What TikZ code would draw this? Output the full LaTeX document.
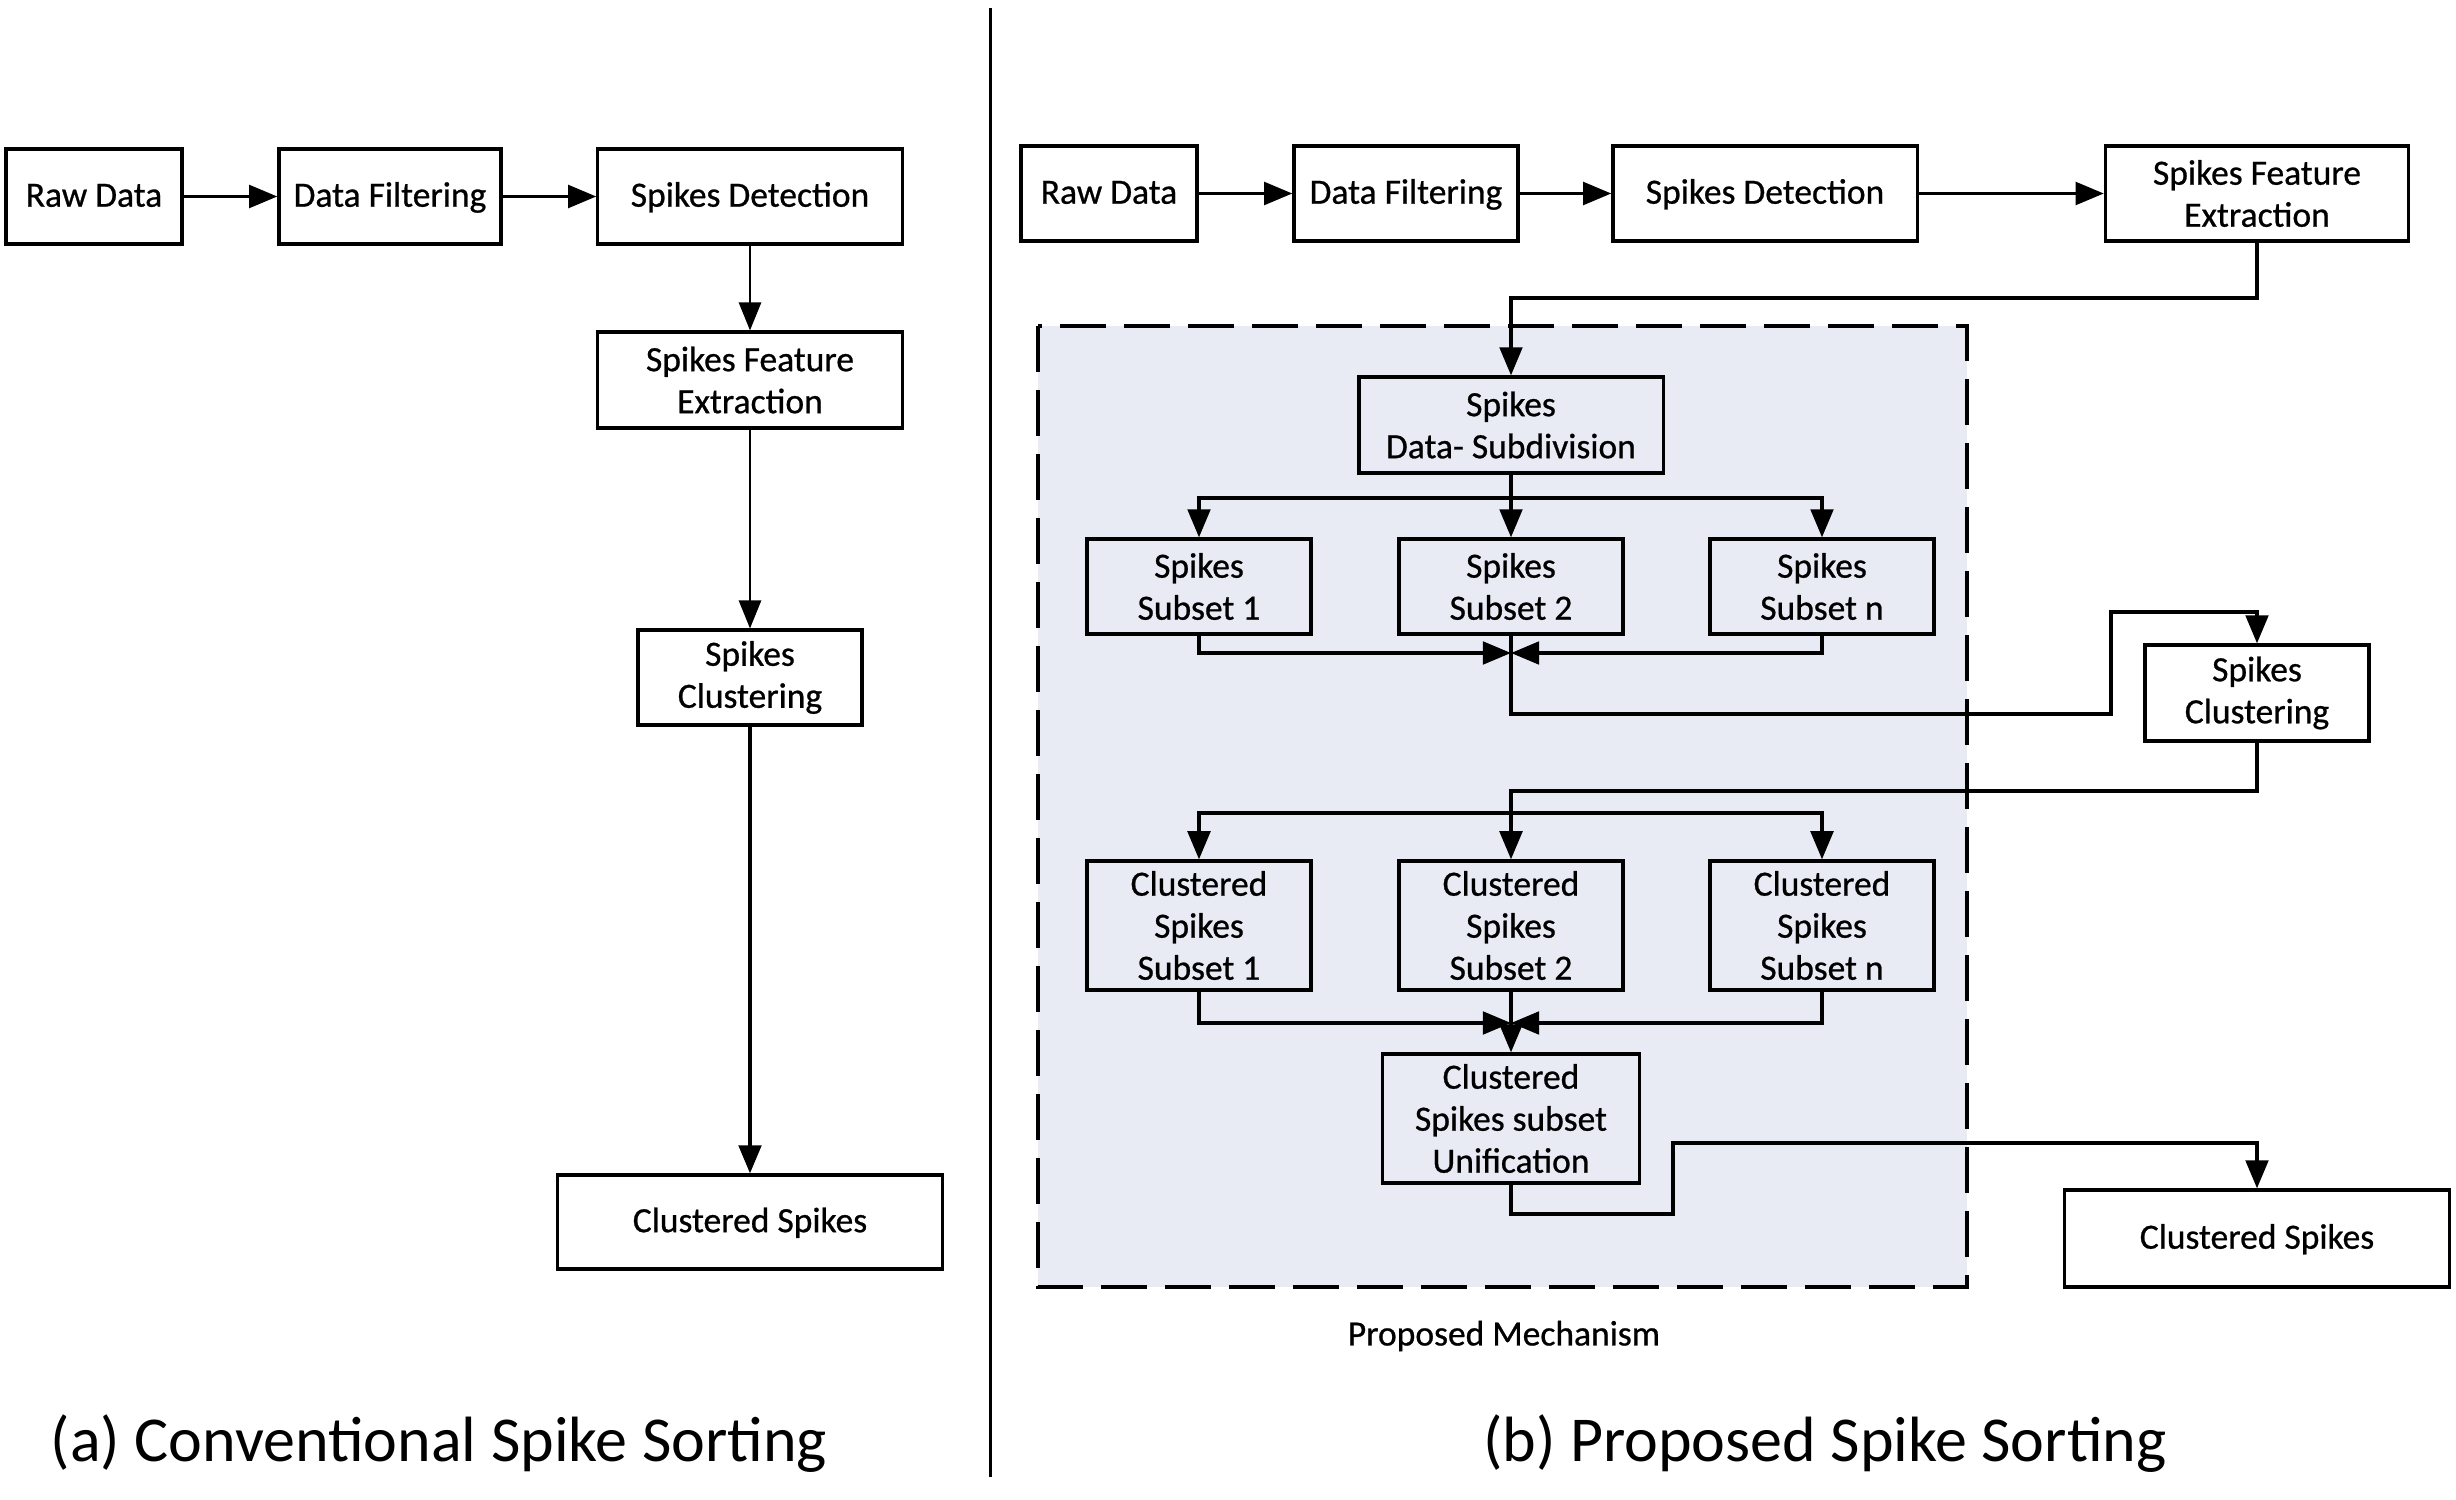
\documentclass[tikz,border=0pt]{standalone}
\usepackage{fontspec}
\setmainfont{Carlito}[FakeBold=0.7]
\newfontfamily\capfont{Carlito}
\usetikzlibrary{arrows.meta}
\definecolor{mechfill}{RGB}{232,235,244}
\tikzset{
  boxbase/.style={draw=black, line width=0.9pt, inner sep=0pt,
     font=\fontsize{10.1pt}{11.95pt}\selectfont},
  boxstyle/.style={boxbase, align=center},
  oneline/.style={boxbase, text height=8.8pt, text depth=3pt},
  conn/.style={line width=1.05pt, -{Triangle[length=8pt,width=6.4pt]}},
  thinconn/.style={line width=0.45pt, -{Triangle[length=8pt,width=6.4pt]}},
  plain/.style={line width=1.05pt},
  caption/.style={font=\capfont\fontsize{18.2pt}{22pt}\selectfont, inner sep=0pt},
  mechlabel/.style={font=\fontsize{10.1pt}{12pt}\selectfont, inner sep=0pt}
}
\begin{document}
\begin{tikzpicture}[x=0.01cm, y=-0.01cm]
\useasboundingbox (0,0) rectangle (2456,1500);
\fill[white] (0,0) rectangle (2456,1500);

% divider
\draw[line width=0.85pt] (990,8) -- (990,1477);

% ---------------- left panel ----------------
\node[oneline, minimum width=1.76cm, minimum height=0.95cm] (lraw) at (94,196.5) {Raw Data};
\node[oneline, minimum width=2.22cm, minimum height=0.95cm] (lfilt) at (390,196.5) {Data Filtering};
\node[oneline, minimum width=3.04cm, minimum height=0.95cm] (ldet) at (750,196.5) {Spikes Detection};
\node[boxstyle, minimum width=3.04cm, minimum height=0.96cm] (lfeat) at (750,380) {Spikes Feature\\Extraction};
\node[boxstyle, minimum width=2.24cm, minimum height=0.95cm] (lclus) at (750,677.5) {Spikes\\Clustering};
\node[oneline, minimum width=3.85cm, minimum height=0.94cm] (lcs) at (750,1222) {Clustered Spikes};

\draw[conn] (lraw) -- (lfilt);
\draw[conn] (lfilt) -- (ldet);
\draw[thinconn] (ldet) -- (lfeat);
\draw[thinconn] (lfeat) -- (lclus);
\draw[conn] (lclus) -- (lcs);

\node[caption] (capa) at (439,1444) {(a) Conventional Spike Sorting};

% ---------------- right panel ----------------
\fill[mechfill] (1038,326) rectangle (1967,1287);
\draw[line width=0.95pt, dash pattern=on 13pt off 5.2pt] (1038,326) rectangle (1967,1287);
\node[mechlabel] (mech) at (1504,1336) {Proposed Mechanism};

\node[oneline, minimum width=1.76cm, minimum height=0.95cm] (rraw) at (1109,193.5) {Raw Data};
\node[oneline, minimum width=2.24cm, minimum height=0.95cm] (rfilt) at (1406,193.5) {Data Filtering};
\node[oneline, minimum width=3.04cm, minimum height=0.95cm] (rdet) at (1765,193.5) {Spikes Detection};
\node[boxstyle, minimum width=3.03cm, minimum height=0.95cm] (rfeat) at (2257,193.5) {Spikes Feature\\Extraction};

\node[boxstyle, minimum width=3.04cm, minimum height=0.96cm] (sub) at (1511,425) {Spikes\\Data- Subdivision};
\node[boxstyle, minimum width=2.24cm, minimum height=0.95cm] (s1) at (1199,586.5) {Spikes\\Subset 1};
\node[boxstyle, minimum width=2.24cm, minimum height=0.95cm] (s2) at (1511,586.5) {Spikes\\Subset 2};
\node[boxstyle, minimum width=2.24cm, minimum height=0.95cm] (sn) at (1822,586.5) {Spikes\\Subset n};

\node[boxstyle, minimum width=2.24cm, minimum height=0.96cm] (rclus) at (2257,693) {Spikes\\Clustering};

\node[boxstyle, minimum width=2.24cm, minimum height=1.29cm] (c1) at (1199,925.5) {Clustered\\Spikes\\Subset 1};
\node[boxstyle, minimum width=2.24cm, minimum height=1.29cm] (c2) at (1511,925.5) {Clustered\\Spikes\\Subset 2};
\node[boxstyle, minimum width=2.24cm, minimum height=1.29cm] (cn) at (1822,925.5) {Clustered\\Spikes\\Subset n};

\node[boxstyle, minimum width=2.57cm, minimum height=1.29cm] (uni) at (1511,1118.5) {Clustered\\Spikes subset\\Unification};

\node[oneline, minimum width=3.84cm, minimum height=0.97cm] (rcs) at (2257,1238.5) {Clustered Spikes};

\node[caption] (capb) at (1825,1444) {(b) Proposed Spike Sorting};

% connectors
\draw[conn] (rraw) -- (rfilt);
\draw[conn] (rfilt) -- (rdet);
\draw[conn] (rdet) -- (rfeat);

\coordinate (f1) at (1511,298);
\draw[conn] (rfeat.south) |- (f1) -- (sub.north);

\coordinate (b1) at (1511,498);
\draw[plain] (sub.south) -- (b1);
\draw[conn] (b1) -| (s1.north);
\draw[conn] (b1) -| (sn.north);
\draw[conn] (b1) -- (s2.north);

\coordinate (m1) at (1511,653);
\draw[conn] (s1.south) |- (m1);
\draw[conn] (sn.south) |- (m1);
\coordinate (t1) at (1511,714);
\coordinate (t2) at (2111,612);
\draw[conn] (s2.south) -- (t1) -| (t2) -| (rclus.north);

\coordinate (k1) at (1511,791);
\draw[conn] (rclus.south) |- (k1) -- (c2.north);
\coordinate (b2) at (1511,813);
\draw[conn] (b2) -| (c1.north);
\draw[conn] (b2) -| (cn.north);

\coordinate (m2) at (1511,1023);
\draw[conn] (c1.south) |- (m2);
\draw[conn] (cn.south) |- (m2);
\draw[conn] (c2.south) -- (uni.north);

\coordinate (u1) at (1511,1214);
\coordinate (u2) at (1673,1143);
\draw[conn] (uni.south) -- (u1) -| (u2) -| (rcs.north);
\end{tikzpicture}
\end{document}
